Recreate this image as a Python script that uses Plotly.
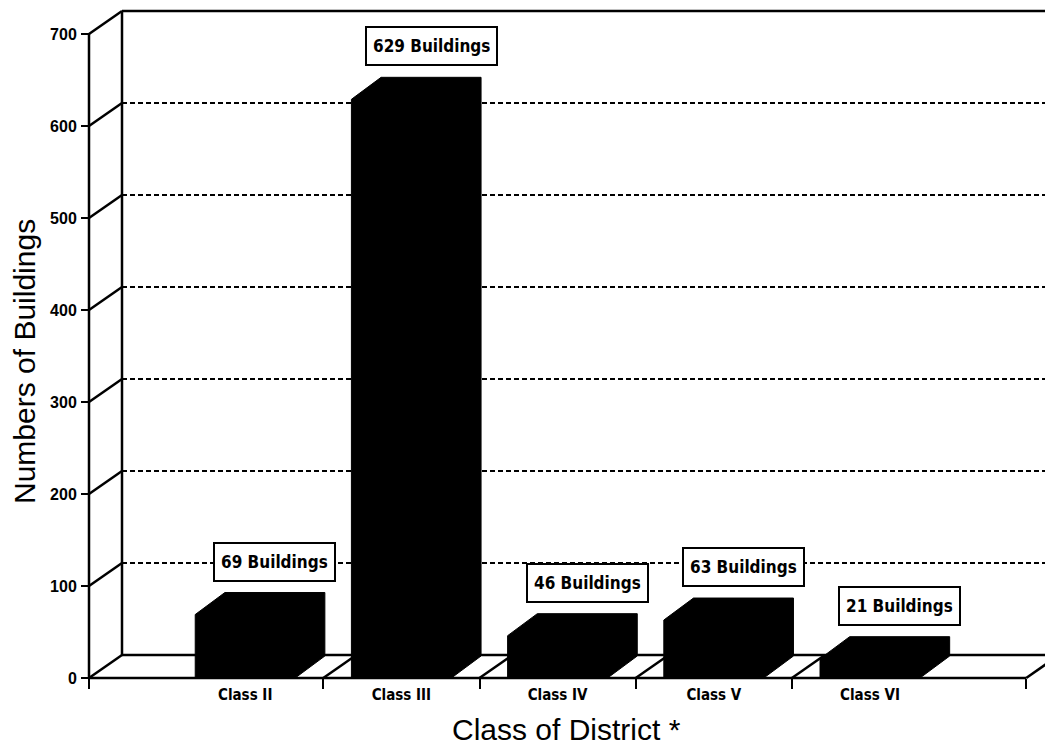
import plotly.graph_objects as go

# ---- data -------------------------------------------------------------
categories = ["Class II", "Class III", "Class IV", "Class V", "Class VI"]
buildings = [69, 629, 46, 63, 21]
y_ticks = [0, 100, 200, 300, 400, 500, 600, 700]

# ---- geometry of the pseudo-3D frame ---------------------------------
W, H = 1045, 745
X0_PX, X_UNIT = 89, 156.2      # pixel of x=0 and pixels per category
Y0_PX, Y_UNIT = 678, 0.92      # pixel of y=0 and pixels per building
DX = 33 / X_UNIT               # depth offset of back wall (x units)
DY = 23 / Y_UNIT               # depth offset of back wall (y units)
BAR_HW = 0.32                  # half-width of bar front face
BAR_DX = 0.19                  # bar depth (x units)
BAR_DY = 22 / Y_UNIT           # bar depth (y units)

x_min = -X0_PX / X_UNIT
x_max = (W - X0_PX) / X_UNIT
y_min = -(H - Y0_PX) / Y_UNIT
y_max = Y0_PX / Y_UNIT

positions = list(range(1, len(categories) + 1))
x_end = len(categories) + 1
boundaries = [0] + [p + 0.5 for p in positions[:-1]] + [x_end]
y_top = y_ticks[-1]

LABEL_FONT = "Liberation Sans Narrow, DejaVu Sans Condensed, Arial, sans-serif"
TITLE_FONT = "Liberation Sans, Arial, Helvetica, sans-serif"

fig = go.Figure()

# frame: front axis, slanted tick connectors, back wall and floor
fx, fy = [], []
def seg(x1, y1, x2, y2):
    fx.extend([x1, x2, None])
    fy.extend([y1, y2, None])

seg(0, 0, 0, y_top)
for t in y_ticks:
    seg(0, t, DX, t + DY)
seg(DX, DY, DX, y_top + DY)
seg(DX, y_top + DY, x_max + 1, y_top + DY)
seg(0, 0, x_end, 0)
seg(DX, DY, x_end + DX + 1, DY)
for b in boundaries[1:]:
    seg(b, 0, b + DX, DY)

fig.add_trace(go.Scatter(x=fx, y=fy, mode="lines",
                         line=dict(color="black", width=2.5),
                         hoverinfo="skip", showlegend=False))

# dashed gridlines on the back wall
gx, gy = [], []
for t in y_ticks[1:-1]:
    gx.extend([DX, x_max + 1, None])
    gy.extend([t + DY, t + DY, None])
fig.add_trace(go.Scatter(x=gx, y=gy, mode="lines",
                         line=dict(color="black", width=2.2, dash="5px,3px"),
                         hoverinfo="skip", showlegend=False))

# solid black 3D bars
for p, v in zip(positions, buildings):
    xl, xr = p - BAR_HW, p + BAR_HW
    bx = [xl, xl, xl + BAR_DX, xr + BAR_DX, xr + BAR_DX, xr, xl]
    by = [0, v, v + BAR_DY, v + BAR_DY, BAR_DY, 0, 0]
    fig.add_trace(go.Scatter(x=bx, y=by, mode="lines", fill="toself",
                             fillcolor="black",
                             line=dict(color="black", width=1),
                             hoverinfo="skip", showlegend=False))

# boxed value labels
for p, v in zip(positions, buildings):
    fig.add_annotation(x=p + BAR_DX, y=v + BAR_DY, xref="x", yref="y",
                       text=f"{v} Buildings", showarrow=False,
                       xanchor="center", yanchor="bottom", yshift=11,
                       height=24,
                       font=dict(family=LABEL_FONT, size=17, color="black",
                                 weight="bold"),
                       bgcolor="white", bordercolor="black",
                       borderwidth=2, borderpad=6)

# axis titles
fig.add_annotation(x=566 / W, y=1 - 729 / H, xref="paper", yref="paper",
                   text="Class of District *", showarrow=False,
                   xanchor="center", yanchor="middle",
                   font=dict(family=TITLE_FONT, size=30, color="black"))
fig.add_annotation(x=25 / W, y=1 - 362 / H, xref="paper", yref="paper",
                   text="Numbers of Buildings", showarrow=False,
                   textangle=-90, xanchor="center", yanchor="middle",
                   font=dict(family=TITLE_FONT, size=30, color="black"))

fig.update_layout(
    width=W, height=H,
    margin=dict(l=0, r=0, t=0, b=0),
    paper_bgcolor="white", plot_bgcolor="white",
    showlegend=False,
    xaxis=dict(range=[x_min, x_max], anchor="free",
               position=(H - Y0_PX) / H,
               tickmode="array", tickvals=boundaries,
               showticklabels=False, ticks="outside", ticklen=10,
               tickwidth=2, tickcolor="black",
               showgrid=False, zeroline=False, showline=False),
    xaxis2=dict(overlaying="x", matches="x", anchor="free",
                position=(H - Y0_PX) / H, side="bottom",
                tickmode="array", tickvals=positions, ticktext=categories,
                ticks="", ticklabelstandoff=6,
                tickfont=dict(family=LABEL_FONT, size=15, color="black",
                              weight="bold"),
                showgrid=False, zeroline=False, showline=False),
    yaxis=dict(range=[y_min, y_max], anchor="free",
               position=X0_PX / W, side="left",
               tickmode="array", tickvals=y_ticks,
               ticks="outside", ticklen=8, tickwidth=2, tickcolor="black",
               ticklabelstandoff=1,
               tickfont=dict(family=TITLE_FONT, size=16, color="black",
                             weight="bold"),
               showgrid=False, zeroline=False, showline=False),
)

# invisible trace so the category label axis is drawn
fig.add_trace(go.Scatter(x=positions, y=[None] * len(positions),
                         xaxis="x2", yaxis="y", mode="markers",
                         hoverinfo="skip", showlegend=False))

fig.write_html("out.html")
